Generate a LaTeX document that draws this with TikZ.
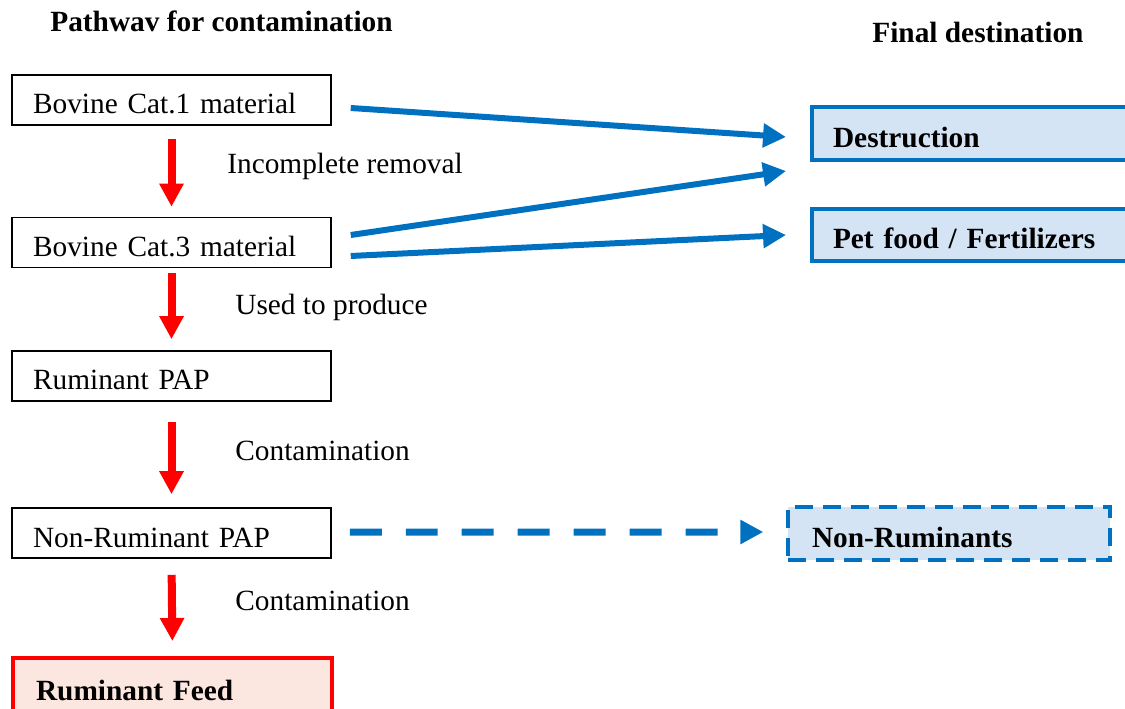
\documentclass[tikz,border=0pt]{standalone}
\usepackage{fontspec}
\setmainfont{Liberation Serif}
\usetikzlibrary{arrows.meta}

\definecolor{pathblue}{RGB}{0,112,192}
\definecolor{destfill}{RGB}{212,228,245}
\definecolor{feedfill}{RGB}{252,230,224}

\newcommand{\diagfont}{\fontsize{16.7pt}{20pt}\selectfont}

\tikzset{
    srcbox/.style={draw, line width=0.9pt, inner xsep=0.42cm, inner ysep=0pt,
        text width=5.54cm, align=left, minimum height=1cm,
        text height=0.62cm, text depth=0.06cm},
    feedbox/.style={srcbox, draw=red, line width=0.08cm, fill=feedfill,
        font=\diagfont\bfseries, inner xsep=0.46cm, text width=5.46cm, minimum height=1.12cm},
    destbox/.style={draw=pathblue, line width=0.08cm, fill=destfill, font=\diagfont\bfseries,
        inner xsep=0.42cm, inner ysep=0pt, text width=5.76cm, align=left,
        minimum height=1.06cm, text height=0.62cm, text depth=0.06cm},
    label/.style={anchor=base west, inner sep=0pt},
    redarrow/.style={draw=red, line width=0.16cm, -{Triangle[length=0.46cm,width=0.46cm]}},
    bluearrow/.style={draw=pathblue, line width=0.12cm, -{Triangle[length=0.46cm,width=0.46cm]}}
}

\begin{document}
\begin{tikzpicture}[x=0.02cm,y=-0.02cm,font=\diagfont]
    \useasboundingbox (0,0) rectangle (1125,709);

    % Headings:
    \node[label,font=\diagfont\bfseries] (hpath) at (50,32) {Pathwav for contamination};
    \node[label,font=\diagfont\bfseries] (hdest) at (872,43) {Final destination};

    % Pathway boxes (left column):
    \node[srcbox] (cat1)  at (171.5,100)   {Bovine Cat.1 material};
    \node[srcbox] (cat3)  at (171.5,242.5) {Bovine Cat.3 material};
    \node[srcbox] (rpap)  at (171.5,376)   {Ruminant PAP};
    \node[srcbox] (nrpap) at (171.5,533)   {Non-Ruminant PAP};
    \node[feedbox] (feed) at (172.5,686)   {Ruminant Feed};

    % Destination boxes (right column):
    \node[destbox] (destr) at (977,133.5) {Destruction};
    \node[destbox] (pet)   at (977,235)   {Pet food / Fertilizers};
    \node[destbox, dash pattern=on 0.36cm off 0.2cm, line width=0.07cm,
          inner xsep=0.48cm, text width=5.48cm] (nonrum) at (949,533.5) {Non-Ruminants};

    % Step labels:
    \node[label] (lremoval) at (227,174) {Incomplete removal};
    \node[label] (lproduce) at (235,315) {Used to produce};
    \node[label] (lcont1)   at (235,460) {Contamination};
    \node[label] (lcont2)   at (235,610) {Contamination};

    % Red arrows down the pathway:
    \draw[redarrow, shorten <=0.26cm, shorten >=0.2cm]  (cat1.south)  -- (cat3.north);
    \draw[redarrow, shorten <=0.1cm,  shorten >=0.22cm] (cat3.south)  -- (rpap.north);
    \draw[redarrow, shorten <=0.4cm,  shorten >=0.26cm] (rpap.south)  -- (nrpap.north);
    \draw[redarrow, shorten <=0.32cm, shorten >=0.3cm]  (nrpap.south) -- (feed.north);

    % Blue arrows to the destinations:
    \draw[bluearrow] ([xshift=0.38cm,yshift=-0.16cm]cat1.east) -- ([xshift=-0.48cm,yshift=-0.07cm]destr.west);
    \draw[bluearrow] ([xshift=0.38cm,yshift=0.15cm]cat3.east)  -- ([xshift=-0.48cm,yshift=-0.75cm]destr.west);
    \draw[bluearrow] ([xshift=0.38cm,yshift=-0.27cm]cat3.east) -- ([xshift=-0.48cm]pet.west);
    \draw[bluearrow, line width=0.14cm, dash pattern=on 0.64cm off 0.48cm]
        ([xshift=0.36cm,yshift=0.02cm]nrpap.east) -- ([xshift=-0.46cm,yshift=0.03cm]nonrum.west);
\end{tikzpicture}
\end{document}
